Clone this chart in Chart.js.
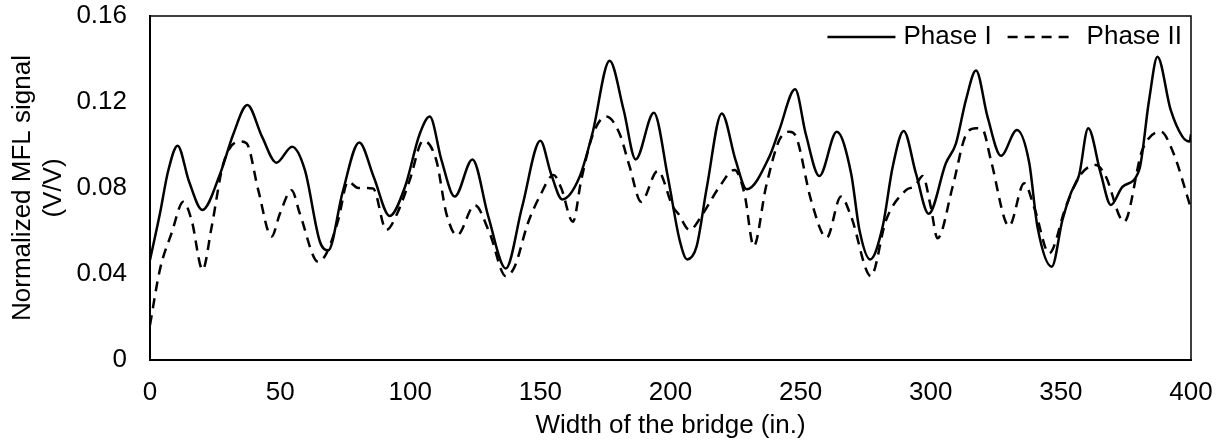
<!DOCTYPE html>
<html>
<head>
<meta charset="utf-8">
<script src="https://cdn.jsdelivr.net/npm/chart.js@4"></script>
<style>
    body { margin: 0; background: #fff; }
    #wrap { width: 1221px; height: 443px; position: relative; }
</style>
</head>
<body>
<div id="wrap"><canvas id="mflChart"></canvas></div>
<script>
// Datos
const phase1X = [0, 3.8, 7, 10.6, 15, 20.1, 27, 32, 37.4, 43, 48.6, 54.6, 59.5, 65.3, 68.5, 74, 80.4, 86, 92.1, 98,
    103.6, 107.5, 112, 117.1, 123.9, 130, 136.7, 143, 150, 154, 158.4, 165, 170, 176.6, 182, 186.6, 193.6, 199,
    203.5, 206.4, 210, 214, 219.7, 225, 229.3, 238, 241.8, 247.9, 252, 257.2, 263.9, 269.4, 272.6, 276.7, 281.5,
    285.4, 289.6, 294.3, 299.2, 305.8, 309.7, 313.5, 317.4, 321.8, 327, 333.1, 337.8, 341, 346.5, 350.6, 353.8,
    357, 360.5, 365.3, 369.2, 373.7, 380.1, 383.9, 387.1, 392.2, 396.7, 399.5, 400];
const phase1Y = [0.0465, 0.068, 0.088, 0.0997, 0.083, 0.0698, 0.0868, 0.105, 0.1186, 0.104, 0.0918, 0.0992, 0.0884,
    0.055, 0.051, 0.078, 0.1012, 0.085, 0.067, 0.0806, 0.105, 0.1132, 0.093, 0.076, 0.0933, 0.0667, 0.0426, 0.0713,
    0.102, 0.087, 0.0747, 0.085, 0.1054, 0.1392, 0.1163, 0.0933, 0.115, 0.085, 0.0558, 0.0468, 0.0527, 0.0806,
    0.1147, 0.093, 0.0794, 0.0946, 0.107, 0.1259, 0.105, 0.0856, 0.1062, 0.0868, 0.0605, 0.0468, 0.062, 0.09,
    0.1065, 0.0868, 0.068, 0.0915, 0.1008, 0.1209, 0.1346, 0.1132, 0.095, 0.107, 0.092, 0.062, 0.0434, 0.0651,
    0.0775, 0.086, 0.1078, 0.0868, 0.0721, 0.0806, 0.0884, 0.1209, 0.1411, 0.1163, 0.1039, 0.1016, 0.105];

const phase2X = [0, 3.8, 8.3, 12.8, 16, 20.2, 23.7, 28.2, 34.5, 37.1, 41.6, 46.7, 49.9, 54.4, 57.6, 64.6, 67.8, 72.3,
    76.1, 80, 85.7, 90.8, 95.3, 99.8, 105, 110, 113.9, 118, 124.8, 130.5, 136.7, 140.1, 145.2, 149.7, 155.1, 158,
    162.5, 165.7, 170.2, 175.3, 180.4, 184.3, 188.7, 195.1, 200.9, 203, 207.3, 212.4, 218.8, 224.6, 228.4, 232,
    236.7, 241.8, 245.7, 248.2, 254, 260, 265.5, 269.4, 277, 282.8, 290.5, 294, 296.9, 300, 302.6, 308.4, 313.5,
    317.4, 320, 323.1, 330.1, 335.9, 340, 345.5, 351.9, 357, 363.4, 367, 374.3, 381.3, 388.4, 393, 400];
const phase2Y = [0.0163, 0.042, 0.059, 0.0736, 0.065, 0.042, 0.062, 0.0915, 0.1016, 0.1008, 0.079, 0.0574, 0.068,
    0.079, 0.068, 0.0457, 0.0496, 0.065, 0.083, 0.08, 0.0798, 0.0605, 0.069, 0.0837, 0.102, 0.093, 0.068, 0.058,
    0.072, 0.059, 0.039, 0.0434, 0.0636, 0.076, 0.086, 0.08, 0.0643, 0.0837, 0.105, 0.1132, 0.1054, 0.0899, 0.0736,
    0.088, 0.0713, 0.068, 0.0605, 0.068, 0.0806, 0.0884, 0.0775, 0.053, 0.0806, 0.1023, 0.1062, 0.104, 0.0744,
    0.0569, 0.076, 0.0667, 0.039, 0.065, 0.079, 0.081, 0.0856, 0.0713, 0.0566, 0.0806, 0.1047, 0.1078, 0.107, 0.093,
    0.0623, 0.0822, 0.07, 0.0496, 0.0713, 0.0853, 0.0907, 0.086, 0.0643, 0.0977, 0.1062, 0.097, 0.0705];

const seriesLabels = ["Phase I", "Phase II"];
const xTicks = [0, 50, 100, 150, 200, 250, 300, 350, 400];
const yTicks = [0, 0.04, 0.08, 0.12, 0.16];

const fontFamily = "'Liberation Sans', Arial, sans-serif";
Chart.defaults.color = "#000";
Chart.defaults.font.family = fontFamily;
Chart.defaults.font.size = 26;

function toPoints(xs, ys) {
    return xs.map((x, i) => ({ x: x, y: ys[i] }));
}

// Quitar el relleno que Chart.js añade por las etiquetas de los bordes
function noEdgePadding(scale) {
    scale.paddingTop = 0;
    scale.paddingBottom = 0;
    scale.paddingLeft = 0;
    scale.paddingRight = 0;
}

// Marco superior y derecho del área del gráfico
const frameBox = {
    id: "frameBox",
    afterDraw(chart) {
        const { ctx, chartArea: a } = chart;
        ctx.save();
        ctx.strokeStyle = "#000";
        ctx.lineWidth = 1.5;
        ctx.beginPath();
        ctx.moveTo(a.left, a.top);
        ctx.lineTo(a.right, a.top);
        ctx.lineTo(a.right, a.bottom);
        ctx.stroke();
        ctx.restore();
    }
};

// Leyenda dentro del área, arriba a la derecha
const innerLegend = {
    id: "innerLegend",
    afterDraw(chart) {
        const { ctx, chartArea: a } = chart;
        const sets = chart.data.datasets;
        ctx.save();
        ctx.font = "26px " + fontFamily;
        ctx.textBaseline = "middle";
        ctx.fillStyle = "#000";
        const y = a.top + 21;
        const lineLens = [68, 64];
        const textGap = [8, 15];   // entre línea y texto
        let x = a.right - 9;
        // de derecha a izquierda
        for (let i = sets.length - 1; i >= 0; i--) {
            const w = ctx.measureText(sets[i].label).width;
            x -= w;
            ctx.fillText(sets[i].label, x, y);
            x -= textGap[i];
            ctx.beginPath();
            ctx.setLineDash(sets[i].borderDash || []);
            ctx.lineWidth = sets[i].borderWidth;
            ctx.strokeStyle = sets[i].borderColor;
            ctx.moveTo(x - lineLens[i], y);
            ctx.lineTo(x, y);
            ctx.stroke();
            x -= lineLens[i] + 16;
        }
        ctx.restore();
    }
};

const ctx = document.getElementById("mflChart").getContext("2d");
const mflChart = new Chart(ctx, {
    type: "line",
    data: {
        datasets: [{
            label: seriesLabels[0],
            data: toPoints(phase1X, phase1Y),
            borderColor: "#000",
            borderWidth: 2.5,
            pointRadius: 0,
            cubicInterpolationMode: "monotone",
            fill: false,
        }, {
            label: seriesLabels[1],
            data: toPoints(phase2X, phase2Y),
            borderColor: "#000",
            borderWidth: 2.5,
            borderDash: [10, 7],
            pointRadius: 0,
            cubicInterpolationMode: "monotone",
            fill: false,
        }],
    },
    options: {
        responsive: true,
        maintainAspectRatio: false,
        animation: false,
        layout: {
            padding: { left: 0, right: 30, top: 16, bottom: 0 },
        },
        scales: {
            x: {
                type: "linear",
                min: 0,
                max: 400,
                grid: { display: false, drawTicks: false },
                border: { display: true, color: "#000", width: 2 },
                afterBuildTicks(scale) { scale.ticks = xTicks.map(v => ({ value: v })); },
                afterFit(scale) { scale.height = 83; noEdgePadding(scale); },
                ticks: { padding: 17, maxRotation: 0, callback: v => String(v) },
                title: {
                    display: true,
                    text: "Width of the bridge (in.)",
                    padding: { top: 0, bottom: 2 },
                },
            },
            y: {
                min: 0,
                max: 0.16,
                grid: { display: false, drawTicks: false },
                border: { display: true, color: "#000", width: 2 },
                afterBuildTicks(scale) { scale.ticks = yTicks.map(v => ({ value: v })); },
                afterFit(scale) { scale.width = 150; noEdgePadding(scale); },
                ticks: { padding: 23, callback: v => String(Math.round(v * 100) / 100) },
                title: {
                    display: true,
                    text: ["Normalized MFL signal", "(V/V)"],
                    padding: { top: 7, bottom: 0 },
                },
            },
        },
        plugins: {
            legend: { display: false },
            tooltip: { enabled: false },
        },
    },
    plugins: [frameBox, innerLegend],
});
</script>
</body>
</html>
